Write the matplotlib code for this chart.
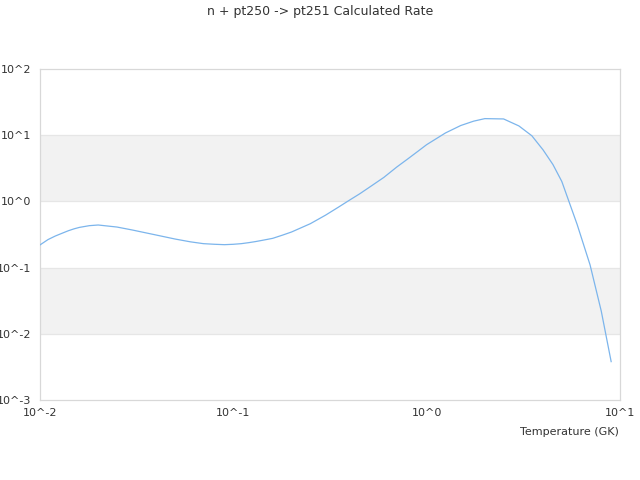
import matplotlib
matplotlib.use("Agg")
import matplotlib.pyplot as plt

# temperature grid (GK) and calculated rate
temp = [0.01, 0.011, 0.012, 0.013, 0.014, 0.015, 0.016, 0.018, 0.02, 0.025,
        0.03, 0.04, 0.05, 0.06, 0.07, 0.08, 0.09, 0.1, 0.11, 0.12,
        0.13, 0.14, 0.15, 0.16, 0.18, 0.2, 0.25, 0.3, 0.35, 0.4,
        0.45, 0.5, 0.6, 0.7, 0.8, 0.9, 1.0, 1.25, 1.5, 1.75,
        2.0, 2.5, 3.0, 3.5, 4.0, 4.5, 5.0, 6.0, 7.0, 8.0, 9.0]
rate = [0.22, 0.265, 0.30, 0.33, 0.36, 0.385, 0.405, 0.43, 0.44, 0.41,
        0.37, 0.31, 0.27, 0.245, 0.23, 0.225, 0.222, 0.225, 0.23, 0.238,
        0.247, 0.257, 0.267, 0.277, 0.31, 0.345, 0.46, 0.62, 0.82, 1.05,
        1.3, 1.6, 2.3, 3.3, 4.4, 5.7, 7.2, 10.8, 14.0, 16.3,
        17.8, 17.6, 13.8, 9.8, 6.0, 3.6, 2.0, 0.45, 0.11, 0.022, 0.0038]

x_ticks = [1e-2, 1e-1, 1e0, 1e1]
x_labels = ["10^-2", "10^-1", "10^0", "10^1"]
y_ticks = [1e-3, 1e-2, 1e-1, 1e0, 1e1, 1e2]
y_labels = ["10^-3", "10^-2", "10^-1", "10^0", "10^1", "10^2"]
bands = [(1e-2, 1e-1), (1e0, 1e1)]

fig = plt.figure(figsize=(6.4, 4.8), dpi=100)
ax = fig.add_axes([40/640, 80/480, 580/640, 331/480])

for lo, hi in bands:
    ax.axhspan(lo, hi, color="#f2f2f2", zorder=0, lw=0)
for y in y_ticks[1:-1]:
    ax.axhline(y, color="#e6e6e6", lw=0.9, zorder=1)

ax.plot(temp, rate, color="#7cb5ec", lw=0.9, zorder=3)

ax.set_xscale("log")
ax.set_yscale("log")
ax.set_xlim(1e-2, 1e1)
ax.set_ylim(1e-3, 1e2)
ax.set_xticks(x_ticks)
ax.set_xticklabels(x_labels)
ax.set_yticks(y_ticks)
ax.set_yticklabels(y_labels)
ax.minorticks_off()
ax.tick_params(length=0, labelsize=8, labelcolor="#333333", pad=6)

for s in ax.spines.values():
    s.set_color("#d8d8d8")
    s.set_linewidth(0.9)

fig.text(0.5, 1 - 12/480, "n + pt250 -> pt251 Calculated Rate",
         ha="center", va="center", fontsize=9, color="#333333")
fig.text(619/640, 1 - 432/480, "Temperature (GK)",
         ha="right", va="center", fontsize=8, color="#333333")

fig.savefig("out.png", dpi=100)
